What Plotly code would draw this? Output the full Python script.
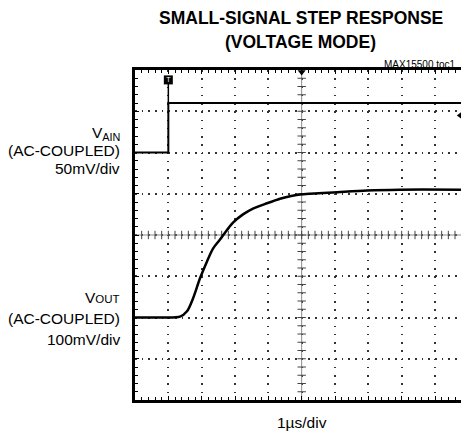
import plotly.graph_objects as go

# ---- data (in scope divisions) ----
N_XDIV = 10          # horizontal divisions (1us/div); right part cropped
N_YDIV = 8           # vertical divisions
X_VISIBLE = 9.78     # visible part of the screen
MINOR = 0.2          # 5 minor ticks per division

vain_t = [0.0, 1.0, 1.0, 9.78]
vain_v = [6.0, 6.0, 7.2, 7.2]

vout_t = [0.0, 0.75, 1.35, 1.56, 1.74, 1.95, 2.16, 2.34, 2.55, 2.76, 2.94, 3.24,
          3.54, 3.96, 4.35, 4.65, 4.95, 5.25, 5.94, 6.96, 7.95, 9.78]
vout_v = [2.0, 2.0, 2.02, 2.15, 2.46, 2.95, 3.36, 3.67, 3.89, 4.12, 4.30, 4.50,
          4.64, 4.77, 4.88, 4.94, 4.98, 5.00, 5.03, 5.08, 5.10, 5.10]

trig_t = 1.0
trig_v = 7.76
ch1_marker_v = 6.9

FONT = "Liberation Sans, Arial, sans-serif"

fig = go.Figure()

# center crosshair of graticule
cx = N_XDIV / 2
cy = N_YDIV / 2
fig.add_trace(go.Scatter(x=[cx, cx], y=[0, N_YDIV], mode="lines",
                         line=dict(color="#8a8a8a", width=1), hoverinfo="skip"))
fig.add_trace(go.Scatter(x=[0, X_VISIBLE], y=[cy, cy], mode="lines",
                         line=dict(color="#8a8a8a", width=1), hoverinfo="skip"))
ys = [round(i * MINOR, 3) for i in range(1, int(N_YDIV / MINOR))]
xs = [round(i * MINOR, 3) for i in range(1, int(X_VISIBLE / MINOR) + 1)]
fig.add_trace(go.Scatter(x=[cx] * len(ys), y=ys, mode="markers",
                         marker=dict(symbol="line-ew", size=6,
                                     line=dict(color="#444", width=1)),
                         hoverinfo="skip"))
fig.add_trace(go.Scatter(x=xs, y=[cy] * len(xs), mode="markers",
                         marker=dict(symbol="line-ns", size=6,
                                     line=dict(color="#444", width=1)),
                         hoverinfo="skip"))

# traces
fig.add_trace(go.Scatter(x=vain_t, y=vain_v, mode="lines",
                         line=dict(color="black", width=2), hoverinfo="skip"))
fig.add_trace(go.Scatter(x=vout_t, y=vout_v, mode="lines",
                         line=dict(color="black", width=2.5, shape="spline", smoothing=0.8),
                         hoverinfo="skip"))

# trigger marker
fig.add_trace(go.Scatter(x=[trig_t, trig_t], y=[vain_v[-1], trig_v], mode="lines",
                         line=dict(color="black", width=1.5), hoverinfo="skip"))
fig.add_trace(go.Scatter(x=[trig_t], y=[trig_v], mode="markers+text",
                         marker=dict(symbol="square", size=9, color="black"),
                         text=["T"], textposition="middle center",
                         textfont=dict(color="white", size=7, family=FONT),
                         hoverinfo="skip", cliponaxis=False))
# trigger position marker on top edge
fig.add_trace(go.Scatter(x=[cx], y=[N_YDIV - 0.05], mode="markers",
                         marker=dict(symbol="triangle-down", size=7, color="black"),
                         hoverinfo="skip", cliponaxis=False))
# channel level marker on right edge (cropped)
fig.add_trace(go.Scatter(x=[X_VISIBLE - 0.02], y=[ch1_marker_v], mode="markers",
                         marker=dict(symbol="triangle-left", size=7, color="black"),
                         hoverinfo="skip", cliponaxis=False))

fig.update_layout(
    width=461, height=435,
    margin=dict(l=135, r=0, t=70, b=35, autoexpand=False),
    paper_bgcolor="white", plot_bgcolor="white",
    showlegend=False,
    font=dict(family=FONT, color="black"),
    xaxis=dict(range=[0, X_VISIBLE], tick0=0, dtick=1, showticklabels=False,
               showgrid=True, gridcolor="#333", gridwidth=1.5, griddash="1.5px,6.75px",
               zeroline=False, ticks="inside", ticklen=4, tickcolor="black",
               showline=True, linewidth=2.5, linecolor="black", mirror="allticks",
               minor=dict(tick0=0, dtick=MINOR, ticks="inside", ticklen=3,
                          tickcolor="black", showgrid=False)),
    yaxis=dict(range=[0, N_YDIV], tick0=0, dtick=1, showticklabels=False,
               showgrid=True, gridcolor="#333", gridwidth=1.5, griddash="1.5px,5.17px",
               zeroline=False, ticks="inside", ticklen=4, tickcolor="black",
               showline=True, linewidth=3, linecolor="black", mirror=False,
               minor=dict(tick0=0, dtick=MINOR, ticks="inside", ticklen=3,
                          tickcolor="black", showgrid=False)),
)

W_PLOT = 461 - 135
H_PLOT = 330


def px(xp):
    return (xp - 135) / W_PLOT


def py(yp):
    return (400 - yp) / H_PLOT


def ann(text, xp, yp, size, xanchor="center", bold=False):
    fig.add_annotation(text=f"<b>{text}</b>" if bold else text,
                       xref="paper", yref="paper", x=px(xp), y=py(yp),
                       xanchor=xanchor, yanchor="middle", showarrow=False,
                       font=dict(size=size, family=FONT, color="black"))


ann("SMALL-SIGNAL STEP RESPONSE", 300.5, 18, 17.5, bold=True)
ann("(VOLTAGE MODE)", 300.5, 42, 17.5, bold=True)
ann("MAX15500 toc1", 458, 64, 10, xanchor="right")

ann("V<sub>AIN</sub>", 122, 133, 15.5, xanchor="right")
ann("(AC-COUPLED)", 122, 150, 15.5, xanchor="right")
ann("50mV/div", 122, 168, 15.5, xanchor="right")

ann("V<span style='font-size:11.5px'>OUT</span>", 122, 297, 15.5, xanchor="right")
ann("(AC-COUPLED)", 122, 318, 15.5, xanchor="right")
ann("100mV/div", 122, 339, 15.5, xanchor="right")

ann("1µs/div", 302, 422, 15.5)

fig.write_html("out.html", config={"displayModeBar": False},
               post_script="document.body.style.margin='0px';document.body.style.overflow='hidden';")
